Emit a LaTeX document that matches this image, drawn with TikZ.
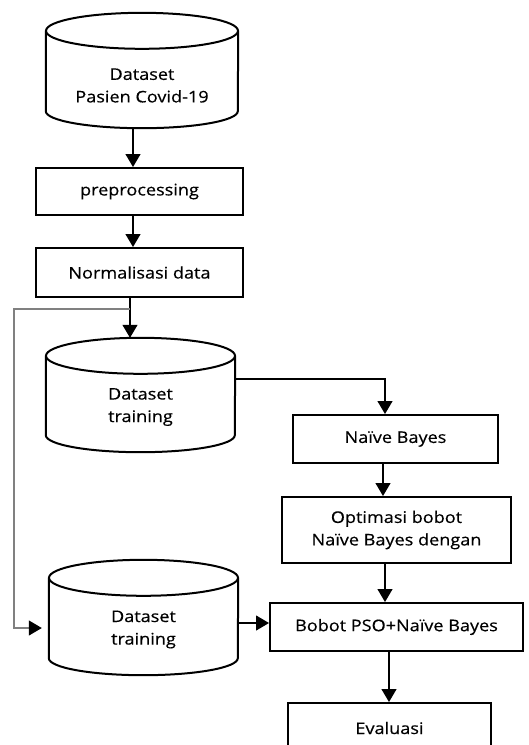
\documentclass[tikz,border=0pt]{standalone}
\usepackage{fontspec}
\setmainfont{Open Sans}[FakeStretch=1.13, FakeBold=0.4]
\usetikzlibrary{arrows.meta}

% cylinder outline round an (invisible) node: #1 node name, #2 half width
\newcommand{\dbshape}[2]{%
  \draw[dbline] ([yshift=-18pt]#1.north west) -- ([yshift=17pt]#1.south west)
    arc[start angle=180, end angle=360, x radius=#2, y radius=17pt]
    -- ([yshift=-18pt]#1.north east);
  \draw[dbline] ([yshift=-18pt]#1.north) ellipse [x radius=#2, y radius=18pt];}

\begin{document}
\begin{tikzpicture}[x=1pt, y=-1pt, >={Triangle[width=15pt, length=13pt, color=black]},
  font=\fontsize{16}{22.5}\selectfont,
  box/.style={draw, line width=2pt, align=center, inner sep=0pt},
  db/.style={inner sep=0pt},
  dbline/.style={line width=2pt},
  dbtext/.style={align=center, yshift=-12pt},
  link/.style={line width=1.2pt},
  loop/.style={link, draw=black!50}]
  \clip (0,0) rectangle (528,745);
  % data stores
  \node[db, minimum width=192pt, minimum height=115pt,
    label={[dbtext, yshift=-3pt]center:Dataset\\Pasien Covid-19}] (pasien) at (142,70.5) {};
  \node[db, minimum width=189pt, minimum height=114pt,
    label={[dbtext]center:Dataset\\training}] (train1) at (140.5,395) {};
  \node[db, minimum width=189pt, minimum height=115pt,
    label={[dbtext]center:Dataset\\training}] (train2) at (143.5,617.5) {};
  \dbshape{pasien}{96pt}
  \dbshape{train1}{94.5pt}
  \dbshape{train2}{94.5pt}
  % process boxes
  \node[box, minimum width=207pt, minimum height=47pt] (prep) at (139.5,191.5) {preprocessing};
  \node[box, minimum width=207pt, minimum height=49pt] (norm) at (139.5,272.5) {Normalisasi data};
  \node[box, minimum width=205pt, minimum height=48pt] (nb) at (395.5,439) {Naïve Bayes};
  \node[box, minimum width=229pt, minimum height=66pt] (opt) at (396.5,530) {Optimasi bobot\\Naïve Bayes dengan};
  \node[box, minimum width=253pt, minimum height=48pt] (pso) at (396.5,627) {Bobot PSO+Naïve Bayes};
  \node[box, minimum width=203pt, minimum height=50pt] (eval) at (389.5,728) {Evaluasi};
  % connectors
  \coordinate (split) at (130,309);
  \coordinate (bend) at (14,309);
  \draw[link, ->] ([xshift=-9pt]pasien.south) -- ([xshift=-9pt]pasien.south |- prep.north);
  \draw[link, ->] ([xshift=-6.5pt]prep.south) -- ([xshift=-6.5pt]norm.north);
  \draw[link, ->] ([xshift=-9.5pt]norm.south) -- ([xshift=-10.5pt]train1.north);
  \draw[loop, ->] (split) -- (bend) |- ([xshift=-7pt, yshift=-10.5pt]train2.west);
  \draw[link, ->] ([yshift=16pt]train1.east) -| ([xshift=-10.5pt]nb.north);
  \draw[link, ->] ([xshift=-12.5pt]nb.south) -- ([xshift=-13.5pt]opt.north);
  \draw[link, ->] ([xshift=-11.5pt]opt.south) -- ([xshift=-11.5pt]pso.north);
  \draw[link, ->] ([yshift=-5.5pt]train2.east) -- ([yshift=-5.5pt]train2.east -| pso.west);
  \draw[link, ->] ([xshift=-7.5pt]pso.south) -- ([xshift=-0.5pt]eval.north);
\end{tikzpicture}
\end{document}
